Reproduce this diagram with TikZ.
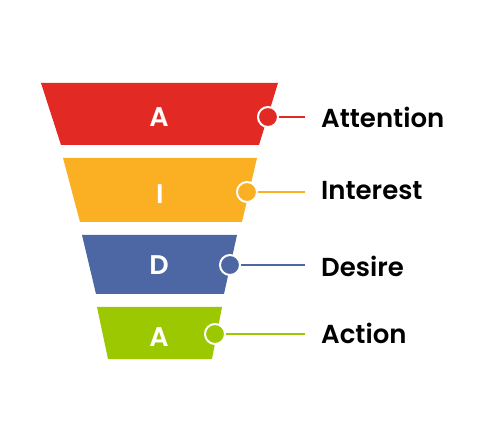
\documentclass[tikz,border=0pt]{standalone}
\usepackage{fontspec}
\setmainfont{Poppins}[BoldFont={Poppins SemiBold}]
\definecolor{cred}{RGB}{226,41,35}
\definecolor{corange}{RGB}{251,176,36}
\definecolor{cblue}{RGB}{76,103,163}
\definecolor{cgreen}{RGB}{155,200,0}
\begin{document}
\begin{tikzpicture}[x=1pt,y=-1pt,
  dot/.style={circle,minimum size=20pt,inner sep=0pt,draw=white,line width=2pt},
  conn/.style={line width=2pt},
  letter/.style={text=white,font=\fontsize{27}{30}\selectfont\bfseries,inner sep=0pt},
  lbl/.style={anchor=west,text=black,font=\fontsize{26}{30}\selectfont\bfseries,inner sep=0pt}]
\useasboundingbox (0,0) rectangle (487,443);
% funnel segments
\fill[cred] (41,83) -- (278,83) -- (259,145) -- (61,145) -- cycle;
\fill[corange] (63,158) -- (257,158) -- (242,222) -- (80,222) -- cycle;
\fill[cblue] (82,235) -- (237,235) -- (224,294) -- (96,294) -- cycle;
\fill[cgreen] (97,307) -- (222,307) -- (212,359) -- (108,359) -- cycle;
% letters
\node[letter] (l1) at (159,117) {A};
\node[letter] (l2) at (160,194) {I};
\node[letter] (l3) at (159,265) {D};
\node[letter] (l4) at (159,337) {A};
% end points
\coordinate (e1) at (305,117);
\coordinate (e2) at (305,192);
\coordinate (e3) at (305,265);
\coordinate (e4) at (305,334);
% dots
\node[dot,fill=cred] (c1) at (268,117) {};
\node[dot,fill=corange] (c2) at (247,192) {};
\node[dot,fill=cblue] (c3) at (230,265) {};
\node[dot,fill=cgreen] (c4) at (215,334) {};
% connectors
\draw[conn,cred] (c1.east) -- (e1);
\draw[conn,corange] (c2.east) -- (e2);
\draw[conn,cblue] (c3.east) -- (e3);
\draw[conn,cgreen] (c4.east) -- (e4);
% labels
\node[lbl] (t1) at (321,117) {Attention};
\node[lbl] (t2) at (321,191) {Interest};
\node[lbl] (t3) at (321,266) {Desire};
\node[lbl] (t4) at (321,333) {Action};
\end{tikzpicture}
\end{document}
